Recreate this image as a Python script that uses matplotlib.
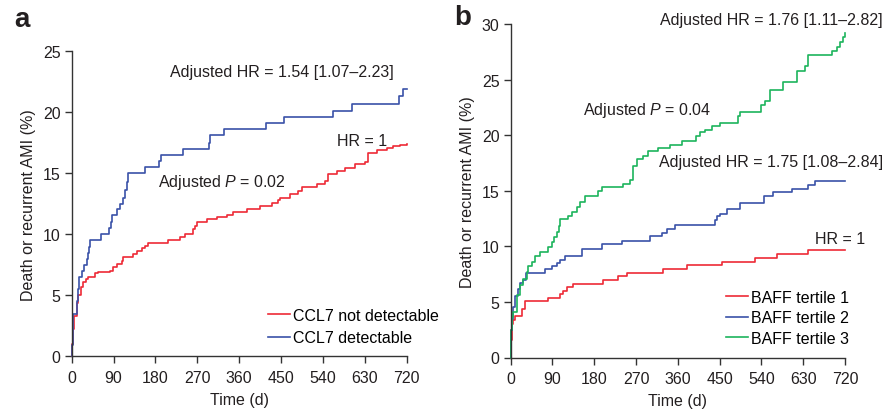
import matplotlib
matplotlib.use("Agg")
import matplotlib.pyplot as plt

plt.rcParams['font.family'] = ['Liberation Sans', 'DejaVu Sans']
plt.rcParams['mathtext.fontset'] = 'custom'
plt.rcParams['mathtext.it'] = 'Liberation Sans:italic'
plt.rcParams['mathtext.rm'] = 'Liberation Sans'

# ---------------- data ----------------
xticks = [0, 90, 180, 270, 360, 450, 540, 630, 720]

# Panel a
a_blue_t = [0, 1, 3.5, 10.7, 13, 15.6, 22.9, 27, 32, 35, 38, 39.4, 62.8, 79.4, 84.5, 86, 96.7,
            103.8, 111, 114.5, 118, 121.7, 157.5, 188, 191, 240, 296, 298, 327, 417, 456, 562,
            603, 704, 713, 720]
a_blue_y = [0, 0.9, 3.5, 4.55, 5.5, 6.5, 7.0, 7.5, 8.0, 8.5, 9.0, 9.55, 10.05, 10.55, 11.0, 11.55,
            12.05, 12.5, 13.0, 13.6, 14.25, 15.0, 15.5, 16.0, 16.5, 17.0, 17.5, 18.1, 18.6, 19.1,
            19.6, 20.1, 20.7, 21.3, 21.9, 21.9]
a_red_t = [0, 1, 3.5, 5.7, 10.7, 14.3, 20, 25, 30, 35.8, 50, 57.3, 82.3, 89.5, 96.6, 107.4, 111,
           132.5, 139.7, 150.4, 157.5, 163.3, 207.6, 232.7, 243.5, 261.4, 265, 268.6, 290, 311.6,
           333, 347, 376, 404.7, 430, 444, 447.7, 469, 487, 494, 526.5, 544, 551.5, 569.5, 587,
           609, 630, 637.5, 655.5, 677, 691, 705.6, 720]
a_red_y = [0, 1.0, 2.2, 3.3, 4.4, 5.0, 5.65, 6.05, 6.3, 6.5, 6.8, 6.9, 7.0, 7.3, 7.55, 7.8, 8.1,
           8.4, 8.65, 8.85, 9.05, 9.3, 9.55, 9.75, 10.0, 10.4, 10.7, 11.0, 11.25, 11.4, 11.6, 11.8,
           12.05, 12.35, 12.55, 12.8, 13.0, 13.3, 13.55, 13.85, 14.1, 14.4, 14.95, 15.15, 15.4,
           15.75, 15.9, 16.7, 16.9, 17.05, 17.2, 17.3, 17.4]

# Panel b
b_red_t = [0, 0.6, 2.2, 5.6, 9.3, 23.7, 30.8, 81, 106, 113, 120.6, 134.8, 199.4, 231.7, 250,
           328.7, 379, 454.5, 526, 573, 641, 720]
b_red_y = [0, 1.6, 3.0, 3.4, 3.7, 4.4, 5.05, 5.35, 5.75, 6.0, 6.3, 6.65, 7.0, 7.3, 7.6, 7.95,
           8.3, 8.6, 8.95, 9.3, 9.65, 9.65]
b_blue_t = [0, 1, 3, 6, 10, 15, 20, 27, 34, 74, 88, 99, 106, 117, 153, 196, 239, 300, 325, 336,
            354, 440, 444, 451, 465, 494, 545, 565, 605, 641, 655, 720]
b_blue_y = [0, 2.5, 3.5, 4.5, 5.5, 6.2, 6.7, 7.0, 7.6, 7.95, 8.2, 8.5, 8.8, 9.15, 9.75, 10.2,
            10.5, 10.9, 11.2, 11.55, 11.9, 12.4, 12.75, 12.9, 13.4, 13.9, 14.5, 14.85, 15.2,
            15.55, 15.9, 15.9]
b_green_t = [0, 1, 3.4, 5.6, 12.9, 20, 27, 34.5, 37.9, 45.2, 52.3, 63.1, 81, 88.3, 93.9, 99,
             104.7, 106.2, 124, 131.4, 142, 149.3, 160, 188.7, 196, 242.5, 257, 264, 271.4,
             285.6, 296.4, 318, 343, 368.3, 398.4, 407.7, 418.5, 433, 451, 489, 494, 539, 547.7,
             558.5, 587, 617, 634, 641, 692.7, 702, 709, 716, 720]
b_green_y = [0, 2.5, 3.6, 4.1, 5.6, 6.5, 7.05, 7.65, 8.2, 8.6, 9.1, 9.5, 9.9, 10.35, 10.8, 11.25,
             11.85, 12.45, 12.75, 13.05, 13.5, 13.95, 14.55, 15.0, 15.3, 15.6, 16.0, 17.25, 17.85,
             18.15, 18.6, 18.85, 19.15, 19.5, 19.9, 20.25, 20.5, 20.8, 21.1, 21.75, 22.1, 22.7,
             23.1, 24.1, 24.8, 25.8, 26.2, 27.2, 27.6, 27.95, 28.35, 28.85, 29.2]

RED = '#ee2a36'
BLUE = '#3a52a8'
GREEN = '#1cb45c'
TXT = '#231f20'
FS = 11.5

W, H = 891, 414
fig = plt.figure(figsize=(W / 100, H / 100), dpi=100)


def px_axes(l, r, b, t):
    return fig.add_axes([l / W, 1 - b / H, (r - l) / W, (b - t) / H])


def ftext(x, y, s, **kw):
    fig.text(x / W, 1 - y / H, s, color=TXT, **kw)


def style(ax, ymax, ystep):
    ax.set_xlim(0, 720)
    ax.set_ylim(0, ymax)
    ax.set_xticks(xticks)
    ax.set_yticks(range(0, ymax + 1, ystep))
    for s in ['top', 'right']:
        ax.spines[s].set_visible(False)
    for s in ['left', 'bottom']:
        ax.spines[s].set_linewidth(1.0)
        ax.spines[s].set_color('#333333')
    ax.tick_params(direction='out', length=5, width=1.0, color='#333333',
                   labelsize=FS, labelcolor=TXT)
    ax.tick_params(axis='x', pad=5)
    ax.tick_params(axis='y', pad=3)
    ax.set_xlabel('Time (d)', fontsize=FS, color=TXT, labelpad=5)
    ax.set_ylabel('Death or recurrent AMI (%)', fontsize=FS, color=TXT, labelpad=5)


# ---------- panel a ----------
axa = px_axes(71.7, 406.7, 357.3, 52.3)
style(axa, 25, 5)
axa.step(a_red_t, a_red_y, where='post', color=RED, lw=1.2, label='CCL7 not detectable', clip_on=False)
axa.step(a_blue_t, a_blue_y, where='post', color=BLUE, lw=1.2, label='CCL7 detectable', clip_on=False)
axa.legend(loc='upper left', bbox_to_anchor=(268 / W, 1 - 309 / H), bbox_transform=fig.transFigure,
           frameon=False, fontsize=FS, handlelength=1.35, handletextpad=0.2,
           labelspacing=0.45, borderpad=0, borderaxespad=0)

ftext(22, 20, 'a', fontsize=20, fontweight='bold', ha='center', va='center')
ftext(282, 73, 'Adjusted HR = 1.54 [1.07\u20132.23]', fontsize=FS, ha='center', va='center')
ftext(362, 142, 'HR = 1', fontsize=FS, ha='center', va='center')
ftext(222, 183, 'Adjusted $\\it{P}$ = 0.02', fontsize=FS, ha='center', va='center')

# ---------- panel b ----------
axb = px_axes(510.7, 845, 358.5, 25)
style(axb, 30, 5)
axb.step(b_red_t, b_red_y, where='post', color=RED, lw=1.2, label='BAFF tertile 1', clip_on=False)
axb.step(b_blue_t, b_blue_y, where='post', color=BLUE, lw=1.2, label='BAFF tertile 2', clip_on=False)
axb.step(b_green_t, b_green_y, where='post', color=GREEN, lw=1.2, label='BAFF tertile 3', clip_on=False)
axb.legend(loc='upper left', bbox_to_anchor=(726 / W, 1 - 291 / H), bbox_transform=fig.transFigure,
           frameon=False, fontsize=FS, handlelength=1.35, handletextpad=0.2,
           labelspacing=0.33, borderpad=0, borderaxespad=0)

ftext(463, 18, 'b', fontsize=20, fontweight='bold', ha='center', va='center')
ftext(771, 20, 'Adjusted HR = 1.76 [1.11\u20132.82]', fontsize=FS, ha='center', va='center')
ftext(647, 110, 'Adjusted $\\it{P}$ = 0.04', fontsize=FS, ha='center', va='center')
ftext(771, 163, 'Adjusted HR = 1.75 [1.08\u20132.84]', fontsize=FS, ha='center', va='center')
ftext(840, 240, 'HR = 1', fontsize=FS, ha='center', va='center')

fig.savefig('out.png', dpi=100)
